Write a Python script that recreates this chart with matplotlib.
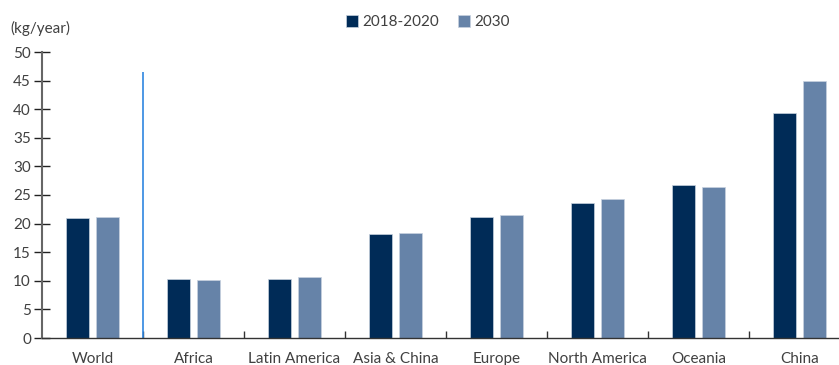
import matplotlib
matplotlib.use("Agg")
import matplotlib.pyplot as plt
import numpy as np

plt.rcParams['font.family'] = ['Lato', 'DejaVu Sans']

# Data
regions = ['World', 'Africa', 'Latin America', 'Asia & China', 'Europe',
           'North America', 'Oceania', 'China']
values_2018_2020 = [20.9, 10.3, 10.3, 18.1, 21.2, 23.6, 26.7, 39.3]
values_2030 = [21.2, 10.1, 10.7, 18.4, 21.5, 24.3, 26.4, 44.9]

darkBlue = '#002b57'
lightBlue = '#6683a8'

fig = plt.figure(figsize=(8.39, 3.65), dpi=100)
ax = fig.add_axes([42 / 839, 27 / 365, 808 / 839, 286 / 365])

x = np.arange(len(regions))
barWidth = 0.23
ax.bar(x - 0.145, values_2018_2020, barWidth, color=darkBlue,
       edgecolor='#c8d2df', linewidth=0.5, label='2018-2020')
ax.bar(x + 0.145, values_2030, barWidth, color=lightBlue,
       edgecolor='#c8d2df', linewidth=0.5, label='2030')

# separator between world and regions
ax.vlines(0.5, 0, 46.5, color='#2f86e0', linewidth=1.2)

ax.set_xlim(-0.5, len(regions) - 0.5)
ax.set_ylim(0, 50)
ax.set_yticks(np.arange(0, 51, 5))

ax.set_xticks(x)
ax.set_xticklabels(regions, fontsize=11, color='#404040')
ax.tick_params(axis='x', length=0, pad=10)
ax.set_xticks(np.arange(0.5, len(regions) - 0.5, 1), minor=True)
ax.tick_params(axis='x', which='minor', direction='in', length=5,
               color='#333333', width=1)
ax.tick_params(axis='y', direction='inout', length=12, width=1,
               color='#222222', labelsize=11, labelcolor='#404040', pad=2)

for side in ['top', 'right']:
    ax.spines[side].set_visible(False)
ax.spines['left'].set_color('#666666')
ax.spines['left'].set_linewidth(1.5)
ax.spines['bottom'].set_color('#333333')
ax.spines['bottom'].set_linewidth(1)

fig.text(10 / 839, 1 - 28 / 365, '(kg/year)', fontsize=11,
         color='#404040', va='center', ha='left')

ax.legend(loc='center', bbox_to_anchor=(428 / 839, 1 - 22 / 365),
          bbox_transform=fig.transFigure, ncol=2, frameon=False,
          fontsize=11, handlelength=0.8, handleheight=0.8,
          handletextpad=0.3, columnspacing=1.2, labelcolor='#404040')

fig.savefig('out.png', dpi=100)
